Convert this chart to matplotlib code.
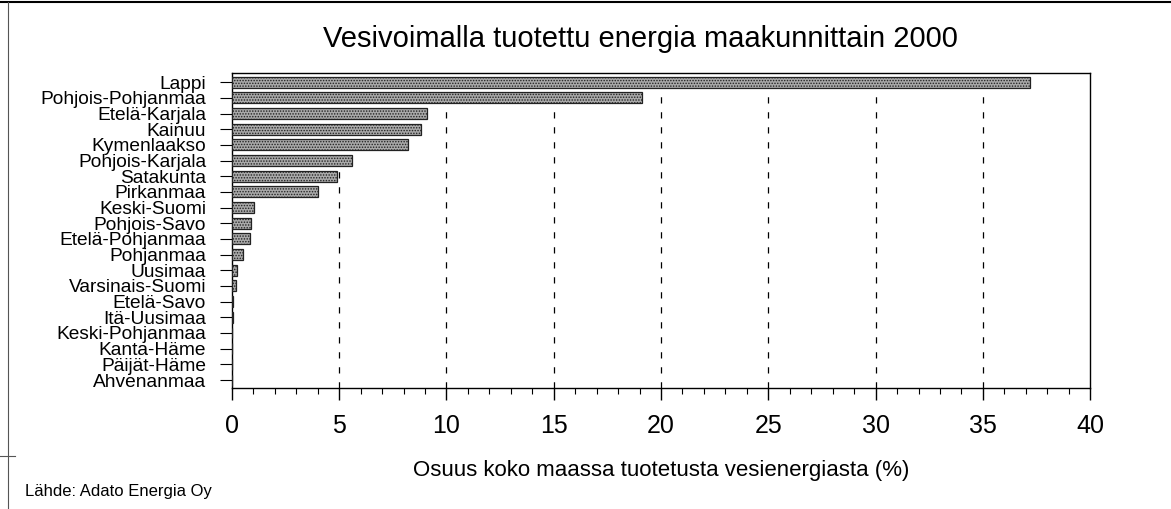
import matplotlib
matplotlib.use("Agg")
import matplotlib.pyplot as plt

plt.rcParams['font.family'] = ['Liberation Sans', 'DejaVu Sans']
plt.rcParams['hatch.linewidth'] = 0.7

maakunnat = ["Lappi", "Pohjois-Pohjanmaa", "Etelä-Karjala", "Kainuu", "Kymenlaakso",
             "Pohjois-Karjala", "Satakunta", "Pirkanmaa", "Keski-Suomi", "Pohjois-Savo",
             "Etelä-Pohjanmaa", "Pohjanmaa", "Uusimaa", "Varsinais-Suomi", "Etelä-Savo",
             "Itä-Uusimaa", "Keski-Pohjanmaa", "Kanta-Häme", "Päijät-Häme", "Ahvenanmaa"]
osuus = [37.2, 19.1, 9.1, 8.8, 8.2, 5.6, 4.9, 4.0, 1.05, 0.87,
         0.84, 0.53, 0.25, 0.19, 0.06, 0.03, 0.02, 0.01, 0.01, 0.0]

fig = plt.figure(figsize=(11.71, 5.09), dpi=100)
ax = fig.add_axes([0.198, 0.238, 0.733, 0.619])

y = range(len(maakunnat))
ax.barh(y, osuus, height=0.7, color='#a9a9a9', edgecolor='#222222',
        linewidth=0.9, hatch='......', zorder=3)

# katkoviivat 5 %:n välein
for v in range(5, 40, 5):
    ax.axvline(v, color='black', lw=0.9, ls=(0, (5, 7)), zorder=1)

ax.set_xlim(0, 40)
ax.set_ylim(19.5, -0.6)
ax.set_yticks(list(y))
ax.set_yticklabels(maakunnat, fontsize=13.8)
ax.set_xticks(range(0, 41, 5))
ax.set_xticks(range(0, 41, 1), minor=True)
ax.tick_params(axis='x', which='major', direction='out', length=8.6, width=1,
               labelsize=18, pad=10)
ax.tick_params(axis='x', which='minor', direction='out', length=4.3, width=0.8)
ax.tick_params(axis='y', direction='out', length=8.6, width=0.8, pad=10)

for s in ax.spines.values():
    s.set_linewidth(1)

ax.set_xlabel("Osuus koko maassa tuotetusta vesienergiasta (%)", fontsize=16,
              labelpad=16)
fig.text(0.547, 0.923, "Vesivoimalla tuotettu energia maakunnittain 2000",
         fontsize=21, ha='center', va='center')
fig.text(0.021, 0.035, "Lähde: Adato Energia Oy", fontsize=12, ha='left',
         va='center')

# sivun reunaviivat
fig.add_artist(plt.Line2D([0, 1], [0.996, 0.996], color='black', lw=1.5))
fig.add_artist(plt.Line2D([0.0065, 0.0065], [0, 0.996], color='#555555', lw=0.8))
fig.add_artist(plt.Line2D([0, 0.013], [0.105, 0.105], color='#555555', lw=0.8))

fig.savefig("out.png", dpi=100)
